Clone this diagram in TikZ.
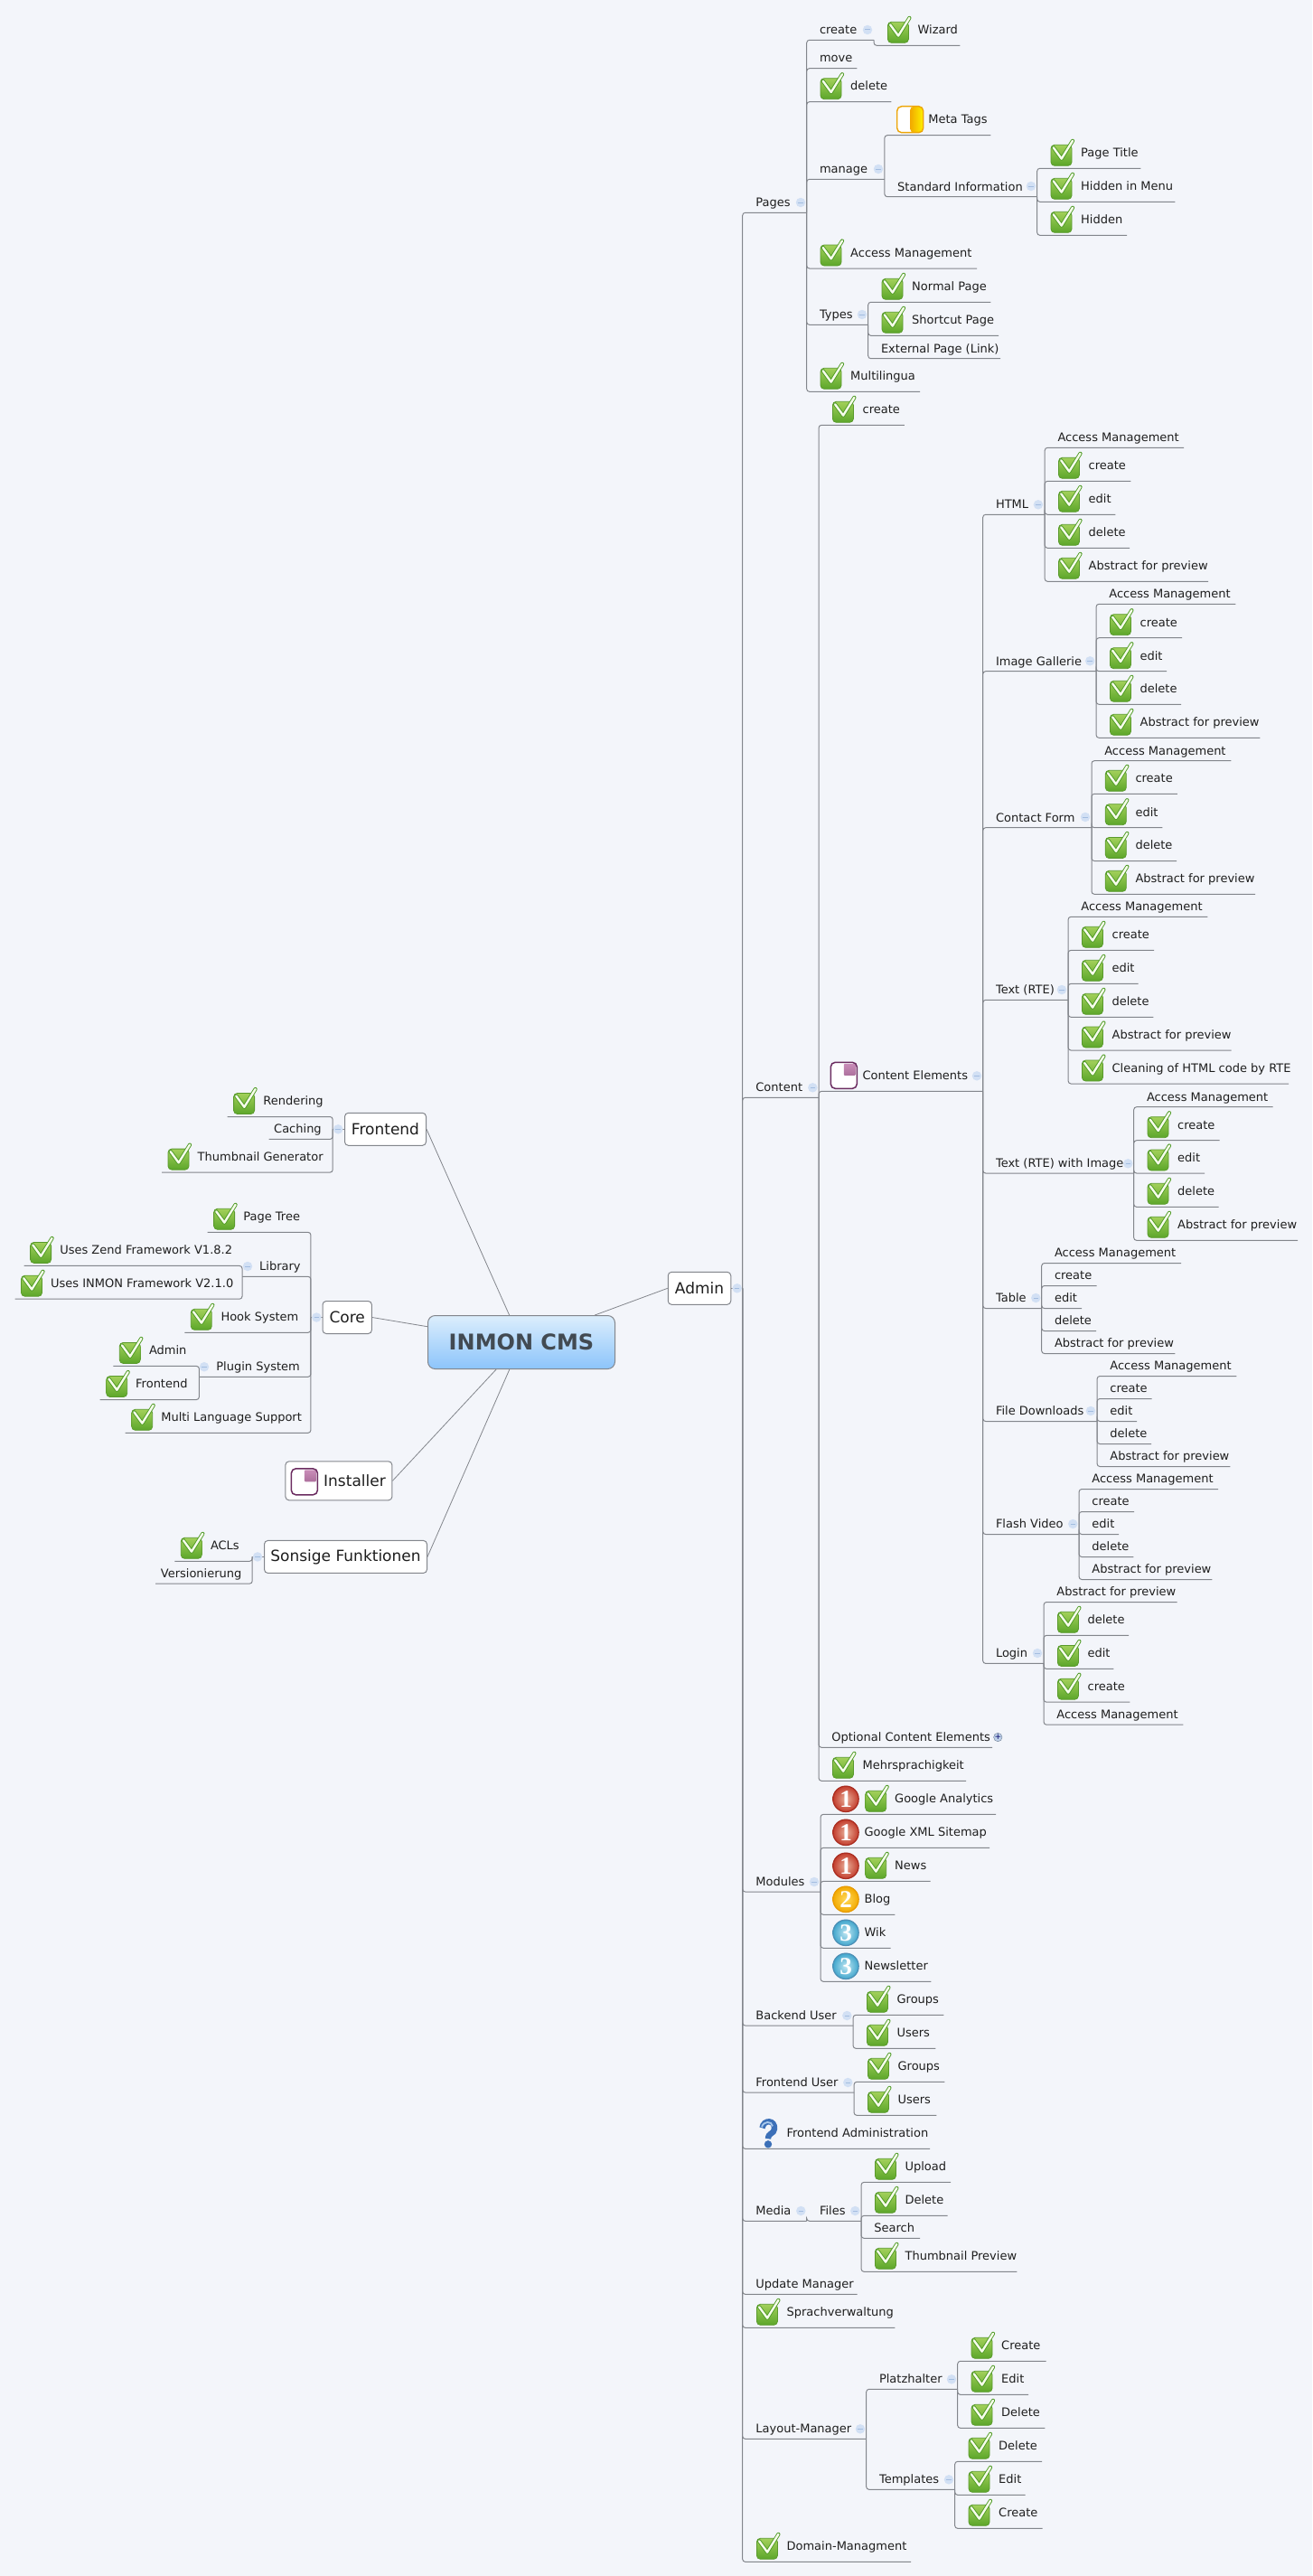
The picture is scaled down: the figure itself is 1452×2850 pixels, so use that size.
\documentclass[tikz,border=0pt]{standalone}
\usepackage{xcolor}
\usepackage{fontspec}
\setmainfont{DejaVu Sans}
\newfontfamily\numfont{Liberation Serif}

\definecolor{paper}{HTML}{F3F5FA}
\definecolor{linecol}{HTML}{83868C}
\definecolor{inkcol}{HTML}{1E1E1E}
\definecolor{foldcol}{HTML}{D2E0F4}
\definecolor{foldbar}{HTML}{A3BDE0}
\definecolor{chkedge}{HTML}{5A9A2C}
\definecolor{chktop}{HTML}{A2D05A}
\definecolor{chkbot}{HTML}{5CA62A}
\definecolor{chkdark}{HTML}{4E9A26}
\definecolor{chklite}{HTML}{F6FCEA}
\definecolor{plum}{HTML}{6B2C60}
\definecolor{pink}{HTML}{C98DB8}
\definecolor{amber}{HTML}{F2A900}
\definecolor{maintop}{HTML}{DCEEFC}
\definecolor{mainbot}{HTML}{8CC4FB}
\definecolor{mainink}{HTML}{424A52}
\definecolor{qblue}{HTML}{3C70B8}
\definecolor{qlite}{HTML}{A8C8EC}
\definecolor{redin}{HTML}{E9B09A}
\definecolor{redout}{HTML}{C23A2A}
\definecolor{rededge}{HTML}{A92E22}
\definecolor{orgin}{HTML}{FFD95A}
\definecolor{orgedge}{HTML}{E89A00}
\definecolor{bluein}{HTML}{BFE6F2}
\definecolor{blueout}{HTML}{3FA5CC}
\definecolor{blueedge}{HTML}{4E8FB5}

\newcommand{\pl}[3][14.5]{\makebox[#2pt][l]{\rule[-6.5pt]{0pt}{1pt}\hspace{#1pt}#3}}
\newcommand{\ck}[3][48.7]{\makebox[#2pt][l]{\rule[-12.5pt]{0pt}{1pt}\hspace{#1pt}#3}}

\tikzset{
    topic/.style={anchor=south west,inner sep=0pt,text=inkcol,font=\fontsize{13}{15}\selectfont},
    link/.style={draw=linecol,line width=1pt,rounded corners=3pt},
    spoke/.style={draw=linecol,line width=0.8pt},
    box/.style={draw=linecol,line width=1pt,fill=white,rounded corners=4pt,inner sep=0pt,text=inkcol,font=\fontsize{17}{19}\selectfont},
    fold/.style={circle,fill=foldcol,inner sep=0pt,minimum size=10.5pt,path picture={
        \draw[foldbar,line width=1pt] ([xshift=2.5pt]path picture bounding box.west) -- ([xshift=-2.5pt]path picture bounding box.east);}},
    pics/chk/.style={code={
        \draw[chkedge,line width=0.8pt,rounded corners=4pt,top color=chktop,bottom color=chkbot] (0,-23) rectangle (23,0);
        \draw[chkdark,line width=4.2pt,line cap=round,line join=round] (2.7,-20) -- (11.7,-7.7) -- (24,-27.5);
        \draw[chklite,line width=2.4pt,line cap=round,line join=round] (2.7,-20) -- (11.7,-7.7) -- (24,-27.5);
    }},
    pics/halfbox/.style={code={
        \fill[white,rounded corners=5pt] (0,-29) rectangle (29,0);
        \shade[left color=amber,right color=yellow!85!amber,rounded corners=4pt] (14.5,-29) rectangle (29,0);
        \draw[amber!90!brown,line width=1.4pt,rounded corners=5pt] (0,-29) rectangle (29,0);
    }},
    pics/cornerbox/.style={code={
        \fill[white,rounded corners=5pt] (0,-29) rectangle (29,0);
        \shade[top color=pink,bottom color=pink!70!plum,rounded corners=1pt] (14.5,-27.5) rectangle (27.5,-14.5);
        \draw[plum,line width=1.5pt,rounded corners=5pt] (0,-29) rectangle (29,0);
    }},
    pics/prio/.style n args={4}{code={
        \shade[inner color=#1,outer color=#2] (0,0) circle (14.5);
        \draw[#3,line width=1.2pt] (0,0) circle (14.2);
        \node[inner sep=0pt,text=white,font=\numfont\bfseries\fontsize{27}{27}\selectfont] (-num) at (0,0) {#4};
    }},
    pics/ask/.style={code={
        \draw[qblue,line width=6.4pt] (-6.5,-21) .. controls (-5,-31) and (8,-30) .. (7,-20) .. controls (6.5,-14) and (0,-16) .. (0,-9);
        \draw[qlite,line width=1.8pt] (-7,-22) .. controls (-5,-29) and (4,-29) .. (5,-23);
        \fill[qblue] (0,-3) circle (4.2);
    }},
}

\begin{document}
\begin{tikzpicture}[x=1pt,y=-1pt]
    \useasboundingbox (0,0) rectangle (1452,2850);
    \fill[paper] (0,0) rectangle (1452,2850);

    \node[draw=linecol,line width=1pt,rounded corners=8pt,top color=maintop,bottom color=mainbot,inner sep=0pt,minimum width=207pt,minimum height=59pt,text=mainink,font=\bfseries\fontsize{24}{26}\selectfont] (main) at (577,1485) {INMON CMS};
    \node[box,minimum width=69.5pt,minimum height=36pt] (admin) at (774,1425.3) {Admin};
    \node[box,minimum width=90pt,minimum height=36pt] (frontend) at (426.5,1249.3) {Frontend};
    \node[box,minimum width=54.4pt,minimum height=36pt] (core) at (384.2,1457.5) {Core};
    \node[box,anchor=south west,minimum height=43pt] (installer) at (315.4,1660.3) {\makebox[118pt][l]{\hspace{42.3pt}Installer}};
    \node[box,minimum width=180pt,minimum height=36pt] (sonsige) at (382.5,1722.4) {Sonsige Funktionen};

    \coordinate (adminbus) at (821.7,1425.3);
    \coordinate (frontbus) at (368.2,1249.3);
    \coordinate (corebus) at (343.9,1457.5);
    \coordinate (sonsbus) at (279.2,1722.4);

    \node[topic] (pages) at (821.7,235.3) {\pl{70.6}{Pages}};
    \node[topic] (pcreate) at (892.3,44.3) {\pl{74.4}{create}};
    \node[topic] (pwizard) at (966.7,50.3) {\ck{95.3}{Wizard}};
    \node[topic] (pmove) at (892.3,75.7) {\pl{55.7}{move}};
    \node[topic] (pdelete) at (892.3,112.7) {\ck{93.7}{delete}};
    \node[topic] (pmanage) at (892.3,198.3) {\pl{86.2}{manage}};
    \node[topic] (pmeta) at (978.5,149.7) {\ck{117.5}{Meta Tags}};
    \node[topic] (pstd) at (978.5,217.7) {\pl{168.8}{Standard Information}};
    \node[topic] (ptitle) at (1147.3,186.3) {\ck{114.7}{Page Title}};
    \node[topic] (pmenu) at (1147.3,223.3) {\ck{152.7}{Hidden in Menu}};
    \node[topic] (phidden) at (1147.3,260.3) {\ck{99.4}{Hidden}};
    \node[topic] (paccess) at (892.3,297) {\ck{188.4}{Access Management}};
    \node[topic] (ptypes) at (892.3,359.3) {\pl{68}{Types}};
    \node[topic] (pnormal) at (960.3,334.3) {\ck{135.7}{Normal Page}};
    \node[topic] (pshort) at (960.3,371.3) {\ck{144.4}{Shortcut Page}};
    \node[topic] (pext) at (960.3,396.7) {\pl{146.4}{External Page (Link)}};
    \node[topic] (pmulti) at (892.3,433.3) {\ck{125.4}{Multilingua}};

    \node[topic] (content) at (821.7,1214.3) {\pl{84}{Content}};
    \node[topic] (ccreate) at (905.7,470.3) {\ck{94.7}{create}};
    \node[topic] (cel) at (905.7,1207.3) {\ck{181.6}{Content Elements}};
    \node[topic] (copt) at (905.7,1933.3) {\pl{192}{Optional Content Elements}};
    \node[topic] (cmehr) at (905.7,1970.3) {\ck{163}{Mehrsprachigkeit}};

    \node[topic] (html) at (1087.3,569.3) {\pl{68.5}{HTML}};
    \node[topic] (hacc) at (1155.8,495.3) {\pl{154}{Access Management}};
    \node[topic] (hcre) at (1155.8,532.3) {\ck{95.2}{create}};
    \node[topic] (hedi) at (1155.8,569.3) {\ck{78.1}{edit}};
    \node[topic] (hdel) at (1155.8,606.3) {\ck{93.8}{delete}};
    \node[topic] (habs) at (1155.8,643.3) {\ck{181}{Abstract for preview}};

    \node[topic] (gal) at (1087.3,742.7) {\pl{125.4}{Image Gallerie}};
    \node[topic] (gacc) at (1212.7,668.3) {\pl{154.3}{Access Management}};
    \node[topic] (gcre) at (1212.7,705.7) {\ck{94.9}{create}};
    \node[topic] (gedi) at (1212.7,742.7) {\ck{78.1}{edit}};
    \node[topic] (gdel) at (1212.7,779.3) {\ck{94.1}{delete}};
    \node[topic] (gabs) at (1212.7,816.3) {\ck{181.3}{Abstract for preview}};

    \node[topic] (form) at (1087.3,915.7) {\pl{120.3}{Contact Form}};
    \node[topic] (facc) at (1207.6,841.7) {\pl{154.4}{Access Management}};
    \node[topic] (fcre) at (1207.6,878.3) {\ck{94.9}{create}};
    \node[topic] (fedi) at (1207.6,915.7) {\ck{78.4}{edit}};
    \node[topic] (fdel) at (1207.6,952.5) {\ck{94}{delete}};
    \node[topic] (fabs) at (1207.6,989.3) {\ck{181}{Abstract for preview}};

    \node[topic] (rte) at (1087.3,1106.3) {\pl{94.4}{Text (RTE)}};
    \node[topic] (racc) at (1181.7,1014.3) {\pl{154.3}{Access Management}};
    \node[topic] (rcre) at (1181.7,1051.3) {\ck{95}{create}};
    \node[topic] (redi) at (1181.7,1088.3) {\ck{77.6}{edit}};
    \node[topic] (rdel) at (1181.7,1125.3) {\ck{94.3}{delete}};
    \node[topic] (rabs) at (1181.7,1162) {\ck{180.6}{Abstract for preview}};
    \node[topic] (rcln) at (1181.7,1199) {\ck{244}{Cleaning of HTML code by RTE}};

    \node[topic] (rim) at (1087.3,1298) {\pl{167}{Text (RTE) with Image}};
    \node[topic] (iacc) at (1254.3,1224.7) {\pl{154}{Access Management}};
    \node[topic] (icre) at (1254.3,1261.7) {\ck{95}{create}};
    \node[topic] (iedi) at (1254.3,1298) {\ck{78.4}{edit}};
    \node[topic] (idel) at (1254.3,1335.3) {\ck{94}{delete}};
    \node[topic] (iabs) at (1254.3,1372.3) {\ck{181.4}{Abstract for preview}};

    \node[topic] (tab) at (1087.3,1447.5) {\pl{65}{Table}};
    \node[topic] (tacc) at (1152.3,1397.5) {\pl{154.4}{Access Management}};
    \node[topic] (tcre) at (1152.3,1422.5) {\pl{61}{create}};
    \node[topic] (tedi) at (1152.3,1447.5) {\pl{44.4}{edit}};
    \node[topic] (tdel) at (1152.3,1472.5) {\pl{60.4}{delete}};
    \node[topic] (tabs) at (1152.3,1497.5) {\pl{147.7}{Abstract for preview}};

    \node[topic] (dl) at (1087.3,1572.5) {\pl{126.4}{File Downloads}};
    \node[topic] (dacc) at (1213.7,1522.5) {\pl{154.3}{Access Management}};
    \node[topic] (dcre) at (1213.7,1547.5) {\pl{60.6}{create}};
    \node[topic] (dedi) at (1213.7,1572.5) {\pl{44}{edit}};
    \node[topic] (ddel) at (1213.7,1597.5) {\pl{60}{delete}};
    \node[topic] (dabs) at (1213.7,1622.5) {\pl{147.3}{Abstract for preview}};

    \node[topic] (fv) at (1087.3,1697.5) {\pl{106.4}{Flash Video}};
    \node[topic] (vacc) at (1193.7,1647.5) {\pl{154}{Access Management}};
    \node[topic] (vcre) at (1193.7,1672.5) {\pl{61}{create}};
    \node[topic] (vedi) at (1193.7,1697.5) {\pl{44}{edit}};
    \node[topic] (vdel) at (1193.7,1722.5) {\pl{60.3}{delete}};
    \node[topic] (vabs) at (1193.7,1747.5) {\pl{147.3}{Abstract for preview}};

    \node[topic] (login) at (1087.3,1840.4) {\pl{67.4}{Login}};
    \node[topic] (labs) at (1154.7,1772.5) {\pl{147.6}{Abstract for preview}};
    \node[topic] (ldel) at (1154.7,1809.3) {\ck{94}{delete}};
    \node[topic] (ledi) at (1154.7,1846.4) {\ck{77.3}{edit}};
    \node[topic] (lcre) at (1154.7,1883.2) {\ck{95.3}{create}};
    \node[topic] (lacc) at (1154.7,1908.2) {\pl{154.3}{Access Management}};

    \node[topic] (modules) at (821.7,2093) {\pl{86}{Modules}};
    \node[topic] (analytics) at (907.7,2007.3) {\ck[82.3]{194}{Google Analytics}};
    \node[topic] (sitemap) at (907.7,2044.3) {\ck{187}{Google XML Sitemap}};
    \node[topic] (news) at (907.7,2081.3) {\ck[82.3]{121.6}{News}};
    \node[topic] (blog) at (907.7,2118.3) {\ck{82.3}{Blog}};
    \node[topic] (wik) at (907.7,2155.3) {\ck{77.6}{Wik}};
    \node[topic] (letter) at (907.7,2192.3) {\ck{122.3}{Newsletter}};

    \node[topic] (backend) at (821.7,2241) {\pl{122}{Backend User}};
    \node[topic] (bgroups) at (943.7,2229.3) {\ck{100.3}{Groups}};
    \node[topic] (busers) at (943.7,2266.3) {\ck{91.3}{Users}};
    \node[topic] (frontuser) at (821.7,2315) {\pl{123}{Frontend User}};
    \node[topic] (fgroups) at (944.7,2303.3) {\ck{100.3}{Groups}};
    \node[topic] (fusers) at (944.7,2340.3) {\ck{91.3}{Users}};
    \node[topic] (fadmin) at (821.7,2377.3) {\ck{207}{Frontend Administration}};

    \node[topic] (media) at (821.7,2457.3) {\pl{70.6}{Media}};
    \node[topic] (files) at (892.3,2457.3) {\pl{60.4}{Files}};
    \node[topic] (upload) at (952.7,2414.3) {\ck{99}{Upload}};
    \node[topic] (mdelete) at (952.7,2451.3) {\ck{95.6}{Delete}};
    \node[topic] (search) at (952.7,2476.3) {\pl{65}{Search}};
    \node[topic] (preview) at (952.7,2513.3) {\ck{172.3}{Thumbnail Preview}};
    \node[topic] (update) at (821.7,2538.3) {\pl{126.6}{Update Manager}};
    \node[topic] (sprach) at (821.7,2575.3) {\ck{168.3}{Sprachverwaltung}};

    \node[topic] (layout) at (821.7,2698.3) {\pl{136.6}{Layout-Manager}};
    \node[topic] (platz) at (958.3,2643.3) {\pl{101}{Platzhalter}};
    \node[topic] (zcreate) at (1059.3,2612.3) {\ck{98}{Create}};
    \node[topic] (zedit) at (1059.3,2649.3) {\ck{78.4}{Edit}};
    \node[topic] (zdelete) at (1059.3,2686.3) {\ck{96.7}{Delete}};
    \node[topic] (templ) at (958.3,2754.3) {\pl{98}{Templates}};
    \node[topic] (ydelete) at (1056.3,2723.3) {\ck{96.4}{Delete}};
    \node[topic] (yedit) at (1056.3,2760.3) {\ck{78}{Edit}};
    \node[topic] (ycreate) at (1056.3,2797.3) {\ck{97}{Create}};
    \node[topic] (domain) at (821.7,2834.3) {\ck{186}{Domain-Managment}};

    \node[topic] (render) at (251.6,1235.5) {\ck[39.5]{116.6}{Rendering}};
    \node[topic] (caching) at (297.5,1260.4) {\pl[5.5]{70.7}{Caching}};
    \node[topic] (thumb) at (179,1297.1) {\ck[39.5]{189.2}{Thumbnail Generator}};

    \node[topic] (ptree) at (229.6,1363.3) {\ck[39.5]{114.3}{Page Tree}};
    \node[topic] (library) at (268,1412.3) {\pl[19]{75.9}{Library}};
    \node[topic] (zend) at (26.6,1400.4) {\ck[39.5]{241.4}{Uses Zend Framework V1.8.2}};
    \node[topic] (inmon) at (16.5,1437.2) {\ck[39.5]{251.5}{Uses INMON Framework V2.1.0}};
    \node[topic] (hook) at (204.3,1474.3) {\ck[40]{139.6}{Hook System}};
    \node[topic] (plugin) at (220.4,1523.3) {\pl[18.8]{123.5}{Plugin System}};
    \node[topic] (padmin) at (125.3,1511.4) {\ck[39.5]{95.1}{Admin}};
    \node[topic] (pfront) at (110.7,1548.5) {\ck[39.3]{109.7}{Frontend}};
    \node[topic] (lang) at (138.7,1585.3) {\ck[39.4]{205.2}{Multi Language Support}};

    \node[topic] (acl) at (193.3,1727.3) {\ck[39.5]{85.9}{ACLs}};
    \node[topic] (vers) at (172.2,1752.1) {\pl[5.5]{107}{Versionierung}};

    \foreach \k in {frontend,core,installer,sonsige}
        \draw[spoke] (\k.east) -- (main);
    \draw[spoke] (admin.west) -- (main);
    \draw[link] (admin.east) -- (adminbus);
    \draw[link] (frontend.west) -- (frontbus);
    \draw[link] (core.west) -- (corebus);
    \draw[link] (sonsige.west) -- (sonsbus);

    \foreach \k in {pages,content,modules,backend,frontuser,fadmin,media,update,sprach,layout,domain}
        \draw[link] (\k.south east) -| (adminbus);
    \foreach \k in {pcreate,pmove,pdelete,pmanage,paccess,ptypes,pmulti}
        \draw[link] (\k.south east) -| (pages.south east);
    \draw[link] (pwizard.south east) -| (pcreate.south east);
    \foreach \k in {pmeta,pstd}
        \draw[link] (\k.south east) -| (pmanage.south east);
    \foreach \k in {ptitle,pmenu,phidden}
        \draw[link] (\k.south east) -| (pstd.south east);
    \foreach \k in {pnormal,pshort,pext}
        \draw[link] (\k.south east) -| (ptypes.south east);
    \foreach \k in {ccreate,cel,copt,cmehr}
        \draw[link] (\k.south east) -| (content.south east);
    \foreach \k in {html,gal,form,rte,rim,tab,dl,fv,login}
        \draw[link] (\k.south east) -| (cel.south east);
    \foreach \k in {hacc,hcre,hedi,hdel,habs}
        \draw[link] (\k.south east) -| (html.south east);
    \foreach \k in {gacc,gcre,gedi,gdel,gabs}
        \draw[link] (\k.south east) -| (gal.south east);
    \foreach \k in {facc,fcre,fedi,fdel,fabs}
        \draw[link] (\k.south east) -| (form.south east);
    \foreach \k in {racc,rcre,redi,rdel,rabs,rcln}
        \draw[link] (\k.south east) -| (rte.south east);
    \foreach \k in {iacc,icre,iedi,idel,iabs}
        \draw[link] (\k.south east) -| (rim.south east);
    \foreach \k in {tacc,tcre,tedi,tdel,tabs}
        \draw[link] (\k.south east) -| (tab.south east);
    \foreach \k in {dacc,dcre,dedi,ddel,dabs}
        \draw[link] (\k.south east) -| (dl.south east);
    \foreach \k in {vacc,vcre,vedi,vdel,vabs}
        \draw[link] (\k.south east) -| (fv.south east);
    \foreach \k in {labs,ldel,ledi,lcre,lacc}
        \draw[link] (\k.south east) -| (login.south east);
    \foreach \k in {analytics,sitemap,news,blog,wik,letter}
        \draw[link] (\k.south east) -| (modules.south east);
    \foreach \k in {bgroups,busers}
        \draw[link] (\k.south east) -| (backend.south east);
    \foreach \k in {fgroups,fusers}
        \draw[link] (\k.south east) -| (frontuser.south east);
    \draw[link] (files.south east) -| (media.south east);
    \foreach \k in {upload,mdelete,search,preview}
        \draw[link] (\k.south east) -| (files.south east);
    \foreach \k in {platz,templ}
        \draw[link] (\k.south east) -| (layout.south east);
    \foreach \k in {zcreate,zedit,zdelete}
        \draw[link] (\k.south east) -| (platz.south east);
    \foreach \k in {ydelete,yedit,ycreate}
        \draw[link] (\k.south east) -| (templ.south east);

    \foreach \k in {render,caching,thumb}
        \draw[link] (\k.south west) -| (frontbus);
    \foreach \k in {ptree,library,hook,plugin,lang}
        \draw[link] (\k.south west) -| (corebus);
    \foreach \k in {zend,inmon}
        \draw[link] (\k.south west) -| (library.south west);
    \foreach \k in {padmin,pfront}
        \draw[link] (\k.south west) -| (plugin.south west);
    \foreach \k in {acl,vers}
        \draw[link] (\k.south west) -| (sonsbus);

    \foreach \k in {pwizard,pdelete,ptitle,pmenu,phidden,paccess,pnormal,pshort,pmulti,ccreate,cmehr,
        hcre,hedi,hdel,habs,gcre,gedi,gdel,gabs,fcre,fedi,fdel,fabs,rcre,redi,rdel,rabs,rcln,
        icre,iedi,idel,iabs,ldel,ledi,lcre,bgroups,busers,fgroups,fusers,upload,mdelete,preview,
        sprach,zcreate,zedit,zdelete,ydelete,yedit,ycreate,domain}
        \pic at ([shift={(15.7,-3)}]\k.south west) {chk};
    \foreach \k in {render,thumb,ptree,zend,inmon,hook,padmin,pfront,lang,acl}
        \pic at ([shift={(7,-3)}]\k.south west) {chk};
    \foreach \k in {analytics,news}
        \pic at ([shift={(50,-3)}]\k.south west) {chk};

    \pic at ([shift={(14.2,-3)}]pmeta.south west) {halfbox};
    \pic at ([shift={(13.6,-3)}]cel.south west) {cornerbox};
    \pic at ([shift={(7,-6.5)}]installer.south west) {cornerbox};
    \foreach \k in {analytics,sitemap,news}
        \pic (n\k) at ([shift={(28.3,-17)}]\k.south west) {prio={redin}{redout}{rededge}{1}};
    \pic (nblog) at ([shift={(28.3,-17)}]blog.south west) {prio={orgin}{amber}{orgedge}{2}};
    \foreach \k in {wik,letter}
        \pic (n\k) at ([shift={(28.3,-17)}]\k.south west) {prio={bluein}{blueout}{blueedge}{3}};
    \pic at ([shift={(28.3,-2)}]fadmin.south west) {ask};

    \foreach \x/\y [count=\i] in {886/224,960/33,972/187,1141/206,954/348,899.3/1203.3,1081/1190.3,
        1148.9/558.3,1206.2/731.3,1201/904,1175/1095,1248.3/1287.3,1146.3/1436,1207/1561,1187.3/1686,1148/1829,
        901/2082,937.3/2230,938.3/2304,886.3/2446,946.3/2446,952/2687.3,1053/2632.3,1050/2743.3,
        815.7/1425.3,374.2/1249.3,350.3/1457.5,285/1722.4,274/1401,226/1512.2}
        \node[fold] (fold\i) at (\x,\y) {};
    \node[circle,draw=black!35!foldbar,fill=foldbar!70!white,inner sep=0pt,minimum size=9pt,font=\fontsize{9}{9}\selectfont,text=black!60!blue] (foldopt) at (1104.3,1922) {+};
\end{tikzpicture}
\end{document}
